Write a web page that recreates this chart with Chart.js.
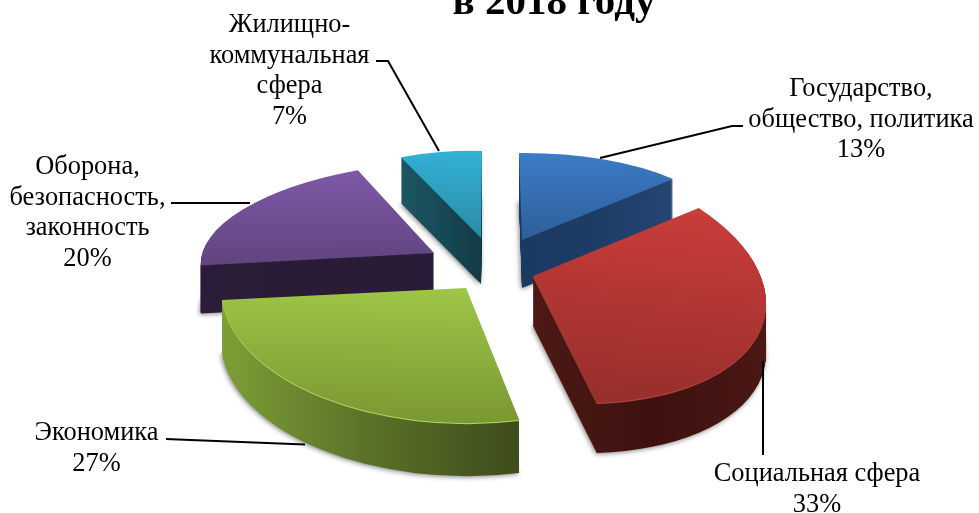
<!DOCTYPE html>
<html lang="ru">
<head>
<meta charset="utf-8">
<title>в 2018 году</title>
<style>
  html, body { margin: 0; background: #fff; overflow: hidden; }
  canvas { display: block; }
</style>
</head>
<body>
<canvas id="grafico" width="979" height="513"></canvas>
<script src="https://cdn.jsdelivr.net/npm/chart.js@4"></script>
<script>
const categorias = [
  ["Государство,", "общество, политика"],
  ["Социальная сфера"],
  ["Экономика"],
  ["Оборона,", "безопасность,", "законность"],
  ["Жилищно-", "коммунальная", "сфера"]
];
const valores = [13, 33, 27, 20, 7];
const titulo = "в 2018 году";

// cores: topo (cima, baixo), lado (esq -> dir), brilho da borda
const corTopo = [
  ["#3b7bc8", "#2f5f98"],
  ["#ca3d3a", "#962e2b"],
  ["#9ec646", "#7a9833"],
  ["#7e58a6", "#60447f"],
  ["#33b1d6", "#2a8ca6"]
];
const corLado = [
  ["#1b3a62", "#1d3c66", "#264672"],
  ["#4c1916", "#3e110f", "#4a1815"],
  ["#7d9f36", "#5a7228", "#3d4c1a"],
  ["#2b1d39", "#2a1c37", "#2a1c38"],
  ["#1b5662", "#174a56", "#123b46"]
];
const corBrilho = [null, "#b84a45", "#b5d95f", null, null];

// vista 3D de cada fatia: vertice, matriz e altura
const vistaX = [522, 533, 466, 434, 481];
const vistaY = [240, 276, 288, 253, 238];
const vistaSx = [210, 233, 245, 232, 190];
const vistaKx = [3, 6, -8, -25, -1];
const vistaKy = [-2, 24, 5, -1, 5];
const vistaSy = [87, 125, 135, 92, 87];
const vistaAltura = [48, 50, 53, 48, 46];
const ordemDesenho = [4, 0, 3, 2, 1];

// posicao dos rotulos e linhas de chamada
const rotuloX = [861, 817, 96.5, 87.5, 289.5];
const rotuloY = [96, 481, 440, 174, 32];
const entrelinha = 30.5;
const chamadas = [
  [[743, 126], [732, 126], [600, 158]],
  [[763, 455], [763, 361]],
  [[166, 439], [178, 439.5], [305, 444.5]],
  [[171, 203], [250, 203]],
  [[376, 61], [388, 61], [439, 151]]
];

function limites(arc) {
  const a0 = arc.startAngle + Math.PI / 2, a1 = arc.endAngle + Math.PI / 2;
  const xs = [0, Math.sin(a0), Math.sin(a1)];
  const ys = [0, -Math.cos(a0), -Math.cos(a1)];
  if (a0 < Math.PI / 2 && a1 > Math.PI / 2) xs.push(1);
  if (a0 < Math.PI && a1 > Math.PI) ys.push(1);
  if (a0 < 3 * Math.PI / 2 && a1 > 3 * Math.PI / 2) xs.push(-1);
  return { x0: Math.min(...xs), x1: Math.max(...xs), y0: Math.min(...ys), y1: Math.max(...ys) };
}

function comVista(ctx, arc, i, desce, desenhar) {
  const R = arc.outerRadius;
  ctx.save();
  ctx.translate(vistaX[i], vistaY[i] + desce);
  ctx.transform(vistaSx[i] / R, vistaKy[i] / R, vistaKx[i] / R, vistaSy[i] / R, 0, 0);
  ctx.translate(-arc.x, -arc.y);
  desenhar();
  ctx.restore();
}

function pintar(ctx, arc, cor) {
  const original = arc.options;
  arc.options = Object.assign({}, original, { backgroundColor: cor });
  arc.draw(ctx);
  arc.options = original;
}

const pizza3d = {
  id: "pizza3d",
  beforeDatasetsDraw(chart) {
    const ctx = chart.ctx;
    const arcos = chart.getDatasetMeta(0).data;
    ordemDesenho.forEach(i => {
      const arc = arcos[i];
      const R = arc.outerRadius;
      const lim = limites(arc);

      const gLado = ctx.createLinearGradient(arc.x + lim.x0 * R, 0, arc.x + lim.x1 * R, 0);
      corLado[i].forEach((c, k) => gLado.addColorStop(k / 2, c));
      const gTopo = ctx.createLinearGradient(0, arc.y + lim.y0 * R, 0, arc.y + lim.y1 * R);
      gTopo.addColorStop(0, corTopo[i][0]);
      gTopo.addColorStop(1, corTopo[i][1]);

      for (let d = vistaAltura[i]; d >= 1; d--) {
        comVista(ctx, arc, i, d, () => {
          if (d === vistaAltura[i]) {
            ctx.shadowColor = "rgba(0,0,0,0.5)";
            ctx.shadowBlur = 5;
            ctx.shadowOffsetX = -1;
            ctx.shadowOffsetY = 1;
          }
          pintar(ctx, arc, gLado);
        });
      }
      if (corBrilho[i]) comVista(ctx, arc, i, 1, () => pintar(ctx, arc, corBrilho[i]));
      comVista(ctx, arc, i, 0, () => pintar(ctx, arc, gTopo));
    });
    return false; // as fatias ja foram desenhadas acima
  },
  afterDraw(chart) {
    const ctx = chart.ctx;
    ctx.save();
    ctx.strokeStyle = "#000";
    ctx.lineWidth = 2;
    chamadas.forEach(pts => {
      ctx.beginPath();
      pts.forEach((p, k) => k ? ctx.lineTo(p[0], p[1]) : ctx.moveTo(p[0], p[1]));
      ctx.stroke();
    });

    ctx.fillStyle = "#000";
    ctx.textAlign = "center";
    ctx.textBaseline = "alphabetic";
    ctx.font = '26.4px "Liberation Serif"';
    categorias.forEach((linhas, i) => {
      const tudo = linhas.concat(valores[i] + "%");
      tudo.forEach((t, k) => ctx.fillText(t, rotuloX[i], rotuloY[i] + k * entrelinha));
    });

    ctx.font = 'bold 41px "Liberation Serif"';
    ctx.fillText(titulo, 554, 14);
    ctx.restore();
  }
};

new Chart(document.getElementById("grafico"), {
  type: "pie",
  data: {
    labels: categorias.map(l => l.join(" ")),
    datasets: [{
      data: valores,
      backgroundColor: corTopo.map(c => c[0]),
      borderWidth: 0
    }]
  },
  options: {
    responsive: false,
    animation: false,
    events: [],
    plugins: { legend: { display: false }, tooltip: { enabled: false } }
  },
  plugins: [pizza3d]
});
</script>
</body>
</html>
